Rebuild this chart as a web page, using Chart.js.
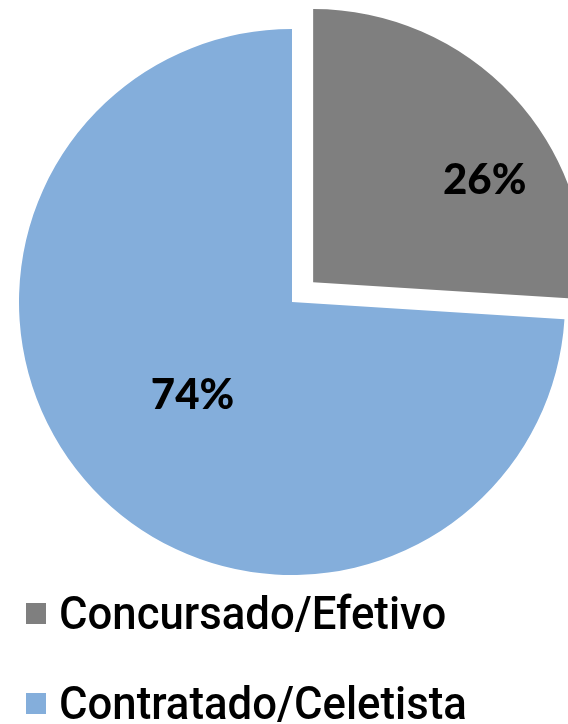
<!DOCTYPE html>
<html>
<head>
<meta charset="utf-8">
<script src="https://cdn.jsdelivr.net/npm/chart.js@4"></script>
<style>
    html, body { margin: 0; padding: 0; background: #fff; }
    .wrap { position: relative; width: 568px; height: 724px; overflow: hidden; }
    #pieChart { position: absolute; left: 0; top: 0; }
    .legend { position: absolute; left: 26px; top: 568px; }
    .legend-item {
        display: flex;
        align-items: center;
        height: 90px;
        font-family: Roboto, sans-serif;
        font-weight: 500;
        font-size: 46px;
        line-height: 90px;
        color: #000;
        white-space: nowrap;
    }
    .legend-box { width: 20px; height: 21px; margin-right: 13px; flex: none; }
    .legend-text { display: inline-block; transform: scaleX(0.95); transform-origin: left center; }
</style>
</head>
<body>
<div class="wrap">
    <canvas id="pieChart" width="568" height="604"></canvas>
    <div class="legend" id="legend"></div>
</div>
<script>
// Data
const categories = ['Concursado/Efetivo', 'Contratado/Celetista'];
const shares = [26, 74];
const sliceColors = ['#7f7f7f', '#84aedb'];
// explode distance in px (Chart.js arc moves by offset / 4)
const sliceOffsets = [29, 0];

// Percent labels drawn on each slice
const sliceLabels = {
    id: 'sliceLabels',
    afterDatasetsDraw(chart, args, opts) {
        const ctx = chart.ctx;
        const meta = chart.getDatasetMeta(0);
        const total = shares.reduce((a, b) => a + b, 0);
        ctx.save();
        ctx.font = '900 42px Lato, sans-serif';
        ctx.fillStyle = '#000';
        ctx.textAlign = 'center';
        ctx.textBaseline = 'middle';
        meta.data.forEach((arc, i) => {
            const p = arc.getProps(['x', 'y', 'startAngle', 'endAngle', 'outerRadius']);
            const mid = (p.startAngle + p.endAngle) / 2;
            const off = (arc.options.offset || 0) / 4;
            const cx = p.x + off * Math.cos(mid);
            const cy = p.y + off * Math.sin(mid);
            const ang = mid + opts.angleShift[i];
            const r = p.outerRadius * opts.radius[i];
            const pct = Math.round(shares[i] / total * 100) + '%';
            ctx.fillText(pct, cx + r * Math.cos(ang), cy + r * Math.sin(ang));
        });
        ctx.restore();
    }
};

const pieCtx = document.getElementById('pieChart').getContext('2d');
const pieChart = new Chart(pieCtx, {
    type: 'pie',
    data: {
        labels: categories,
        datasets: [{
            data: shares,
            backgroundColor: sliceColors,
            borderWidth: 0,
            offset: sliceOffsets.map(o => o * 4),
            clip: false
        }]
    },
    options: {
        responsive: false,
        animation: false,
        events: [],
        devicePixelRatio: 1,
        radius: 273,
        layout: {
            padding: { left: 16, right: 0, top: 0, bottom: 0 }
        },
        plugins: {
            legend: { display: false },
            tooltip: { enabled: false },
            sliceLabels: {
                radius: [0.73, 0.5],
                angleShift: [0.22, 0]
            }
        }
    },
    plugins: [sliceLabels]
});

// Legend
const legendEl = document.getElementById('legend');
legendEl.innerHTML = categories.map((name, i) => `
    <div class="legend-item">
        <span class="legend-box" style="background:${sliceColors[i]}"></span>
        <span class="legend-text">${name}</span>
    </div>
`).join('');
</script>
</body>
</html>
